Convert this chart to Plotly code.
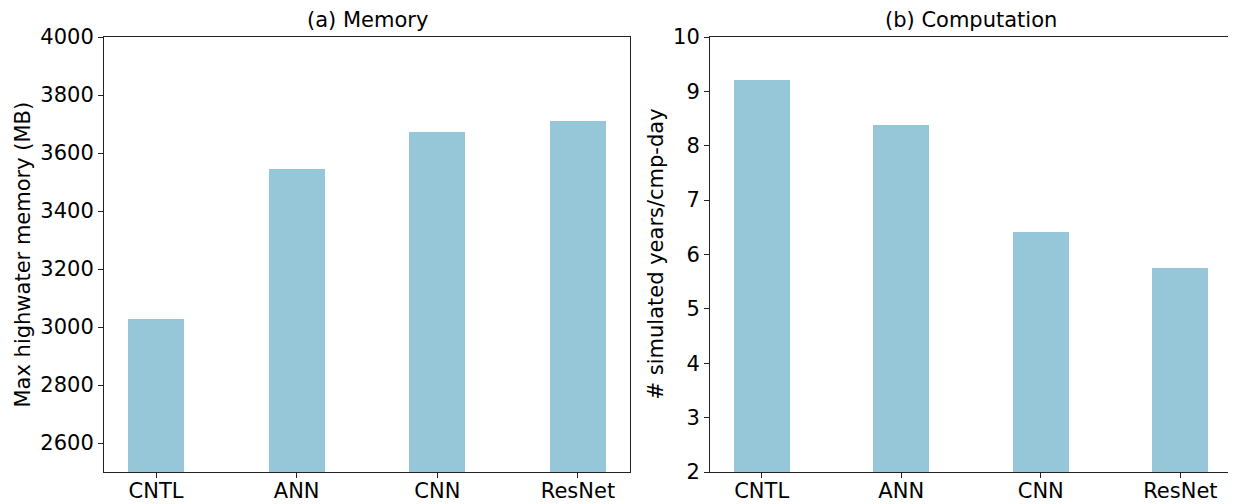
import plotly.graph_objects as go

categories = ["CNTL", "ANN", "CNN", "ResNet"]
memory_mb = [3028, 3545, 3672, 3710]
sim_years_per_day = [9.21, 8.38, 6.42, 5.76]
memory_ticks = [2600, 2800, 3000, 3200, 3400, 3600, 3800, 4000]
comp_ticks = [2, 3, 4, 5, 6, 7, 8, 9, 10]

# page body has an 8px margin; size the figure so it fits the 1236x504 window
OFF = 8
W, H = 1236 - OFF, 504 - OFF
T, B = 37 - OFF, 504 - 472
PH = H - T - B
BAR_COLOR = "#96c7d8"
FONT = "DejaVu Sans"
FS = 21


def px_x(x):
    return (x - OFF) / W


fig = go.Figure()
fig.add_trace(go.Bar(x=categories, y=memory_mb, width=0.4, marker_color=BAR_COLOR,
                     marker_line_width=0, xaxis="x", yaxis="y", showlegend=False))
fig.add_trace(go.Bar(x=categories, y=sim_years_per_day, width=0.4, marker_color=BAR_COLOR,
                     marker_line_width=0, xaxis="x2", yaxis="y2", showlegend=False))

axis_common = dict(showline=True, mirror=True, linecolor="#222", linewidth=1,
                   ticks="outside", ticklen=5, tickcolor="#222", showgrid=False,
                   zeroline=False, automargin=False,
                   tickfont=dict(family=FONT, size=FS, color="black"))

fig.update_layout(
    width=W, height=H,
    margin=dict(l=0, r=0, t=T, b=B, autoexpand=False),
    paper_bgcolor="white", plot_bgcolor="white",
    font=dict(family=FONT, color="black"),
    bargap=0,
    xaxis=dict(domain=[px_x(104), px_x(630)], range=[-0.37, 3.37], anchor="y",
               ticklabelstandoff=-5, **axis_common),
    yaxis=dict(domain=[0, 1], range=[2500, 4000], tickvals=memory_ticks, anchor="x", **axis_common),
    xaxis2=dict(domain=[px_x(710), px_x(1232)], range=[-0.37, 3.37], anchor="y2",
                ticklabelstandoff=-5, **axis_common),
    yaxis2=dict(domain=[0, 1], range=[2, 10], tickvals=comp_ticks, anchor="x2", **axis_common),
)

ann_font = dict(family=FONT, size=FS, color="black")
title_y = 1 + (37 - 20) / PH
fig.add_annotation(text="(a) Memory", x=px_x(367), y=title_y, xref="paper", yref="paper",
                   showarrow=False, font=ann_font, yanchor="middle", xanchor="center")
fig.add_annotation(text="(b) Computation", x=px_x(971), y=title_y, xref="paper", yref="paper",
                   showarrow=False, font=ann_font, yanchor="middle", xanchor="center")
fig.add_annotation(text="Max highwater memory (MB)", x=px_x(22), y=0.5, xref="paper", yref="paper",
                   showarrow=False, font=ann_font, textangle=-90, xanchor="center", yanchor="middle")
fig.add_annotation(text="# simulated years/cmp-day", x=px_x(655), y=0.5, xref="paper", yref="paper",
                   showarrow=False, font=ann_font, textangle=-90, xanchor="center", yanchor="middle")

fig.write_html("out.html")
